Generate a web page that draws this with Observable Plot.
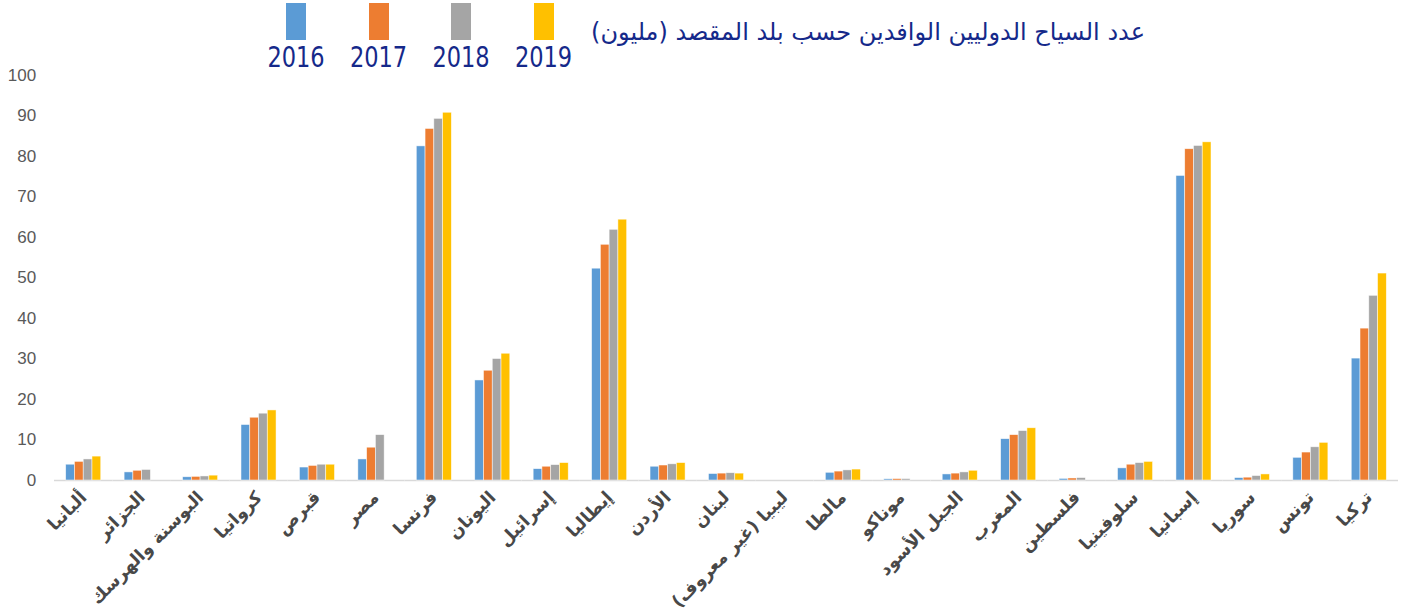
<!DOCTYPE html>
<html><head><meta charset="utf-8">
<script src="https://cdn.jsdelivr.net/npm/d3@7"></script>
<script src="https://cdn.jsdelivr.net/npm/@observablehq/plot@0.6"></script>
<style>
body{margin:0;background:#fff;}
#header{position:relative;height:62px;width:1419px;overflow:visible;z-index:2;}
.sw{position:absolute;top:3px;width:20px;height:37px;}
.yr{position:absolute;top:43px;width:80px;text-align:center;font-family:"DejaVu Sans Condensed","DejaVu Sans",sans-serif;font-size:25px;color:#15298a;line-height:30px;transform:scaleY(1.1);}
#title{position:absolute;right:274px;top:16px;direction:rtl;font-family:"DejaVu Sans",sans-serif;font-size:24px;color:#15298a;white-space:nowrap;line-height:32px;}
#chart{position:relative;z-index:1;}
</style></head><body>
<div id="header"></div>
<div id="chart"></div>
<script>
const title = "عدد السياح الدوليين الوافدين حسب بلد المقصد (مليون)";
const countries = ["ألبانيا","الجزائر","البوسنة والهرسك","كرواتيا","قبرص","مصر","فرنسا","اليونان","إسرائيل","إيطاليا","الأردن","لبنان","ليبيا (غير معروف)\u200F","مالطا","موناكو","الجبل الأسود","المغرب","فلسطين","سلوفينيا","إسبانيا","سوريا","تونس","تركيا"];
const years = ["2016","2017","2018","2019"];
const colors = ["#5b9bd5","#ed7d31","#a5a5a5","#ffc000"];
const v2016 = [3.9, 2.0, 0.8, 13.7, 3.2, 5.2, 82.5, 24.7, 2.8, 52.3, 3.4, 1.6, null, 1.9, 0.3, 1.5, 10.2, 0.4, 3.0, 75.2, 0.6, 5.6, 30.1];
const v2017 = [4.6, 2.4, 0.9, 15.5, 3.6, 8.1, 86.8, 27.1, 3.4, 58.2, 3.7, 1.7, null, 2.2, 0.35, 1.7, 11.2, 0.5, 3.9, 81.8, 0.7, 6.9, 37.5];
const v2018 = [5.2, 2.6, 1.0, 16.5, 3.9, 11.2, 89.3, 30.0, 3.8, 61.9, 4.0, 1.8, null, 2.5, 0.35, 2.0, 12.2, 0.6, 4.3, 82.6, 1.1, 8.2, 45.6];
const v2019 = [5.9, null, 1.2, 17.3, 3.9, null, 90.8, 31.3, 4.3, 64.4, 4.3, 1.7, null, 2.7, null, 2.4, 12.9, null, 4.6, 83.5, 1.5, 9.3, 51.1];
const yTicks = [0,10,20,30,40,50,60,70,80,90,100];

const series = [v2016, v2017, v2018, v2019];
const data = [];
countries.forEach((c, i) => years.forEach((y, j) => {
  const v = series[j][i];
  if (v != null) data.push({country: c, year: y, value: v});
}));

const header = document.getElementById("header");
years.forEach((y, j) => {
  const sw = document.createElement("div");
  sw.className = "sw";
  sw.style.left = (286 + j * 82.5) + "px";
  sw.style.background = colors[j];
  header.appendChild(sw);
  const t = document.createElement("div");
  t.className = "yr";
  t.style.left = (256 + j * 82.5) + "px";
  t.textContent = y;
  header.appendChild(t);
});
const tt = document.createElement("div");
tt.id = "title";
tt.textContent = title;
header.appendChild(tt);

const gapHalf = 1344 / 23 * 0.2;
const chart = Plot.plot({
  width: 1419,
  height: 548,
  marginTop: 13,
  marginBottom: 130,
  marginLeft: 54,
  marginRight: 21,
  style: {background: "none", overflow: "visible"},
  fx: {domain: countries, paddingInner: 0.4, paddingOuter: 0.2, round: false, axis: null, label: null},
  x: {domain: years, padding: 0, round: false, axis: null},
  y: {domain: [0, 100], axis: null},
  color: {domain: years, range: colors},
  marks: [
    Plot.ruleY(countries, {fx: d => d, y: 0, stroke: "#d9d9d9", strokeWidth: 1.5, insetLeft: -gapHalf, insetRight: -gapHalf}),
    Plot.barY(data, {fx: "country", x: "year", y: "value", fill: "year", stroke: "white", strokeWidth: 0.7, strokeOpacity: 0.7}),
    Plot.axisY({ticks: yTicks, tickSize: 0, tickPadding: 30, fontSize: 17, fill: "#595959", label: null, fontFamily: "Liberation Sans, Arial, sans-serif"}),
    Plot.axisFx({anchor: "bottom", tickRotate: -45, tickSize: 0, tickPadding: 14, fontSize: 17.5, fontWeight: "bold", fill: "#484848", label: null, fontFamily: "DejaVu Sans, sans-serif"})
  ]
});
document.getElementById("chart").appendChild(chart);
</script>
</body></html>
